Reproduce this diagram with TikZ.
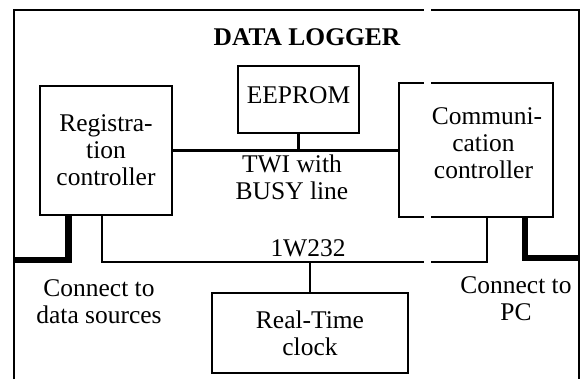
\documentclass[tikz,border=0pt]{standalone}
\usepackage{fontspec}
\setmainfont{Liberation Serif}
\usepackage{tikz}
\usetikzlibrary{calc}
\tikzstyle{every node}=[font=\fontsize{14.5}{15.4}\selectfont]
\tikzstyle{every path}=[line cap=butt,line join=miter]
\tikzstyle{block}=[draw,rectangle,line width=1.6pt,align=center,inner sep=0pt]
\tikzstyle{thinblock}=[block,line width=1.1pt]
\tikzstyle{bus}=[line width=1.2pt]
\tikzstyle{thickbus}=[line width=3.6pt]
\tikzstyle{caption}=[align=center,inner sep=0pt]

\begin{document}
\begin{tikzpicture}[x=0.02cm,y=-0.02cm]
		\useasboundingbox (0,0) rectangle (582,379);
		
		% outer frame of the logger
		\coordinate (tl) at (14,10);
		\coordinate (tr) at (579,10);
		\coordinate (bl) at (14,379);
		\coordinate (br) at (579,379);
		\draw[line width=1.6pt] (bl) -- (tl) -- (tr) -- (br);
		\node[font=\fontsize{14.5}{15.4}\selectfont\bfseries] (title) at (307,37) {DATA LOGGER};
		
		% blocks
		\node[block,minimum width=121*0.02cm,minimum height=67*0.02cm] (eeprom) at (298.5,99.5) {EEPROM\\[-10.5pt]\mbox{}};
		\node[block,minimum width=132*0.02cm,minimum height=129*0.02cm] (reg) at (106,150.5) {Registra-\\tion\\controller};
		\node[thinblock,minimum width=154*0.02cm,minimum height=134*0.02cm] (comm) at (476,150) {\hspace*{12.5pt}Communi-\\\hspace*{8.5pt}cation\\\hspace*{8.5pt}controller\\[-7.5pt]\mbox{}};
		\node[thinblock,minimum width=196*0.02cm,minimum height=80*0.02cm] (rtc) at (310,333) {Real-Time\\clock};
		
		% TWI bus
		\draw[bus] (reg.east) -- (reg.east -| comm.west);
		\draw[bus] (eeprom.south) -- (eeprom.south |- reg.east);
		\node[caption] (twi) at (292,177) {TWI with\\BUSY line};
		
		% 1W232 bus
		\draw[bus] ($(reg.south west)+(63,0)$) -- ++(0,46) coordinate (w1) -| ($(comm.south west)+(89,0)$);
		\draw[bus] (rtc.north) -- (rtc.north |- w1);
		\node[caption] (w232) at (308,248) {1W232};
		
		% external connections
		\coordinate (srcend) at (14,260);
		\coordinate (pcend) at (579,258);
		\draw[thickbus] ($(reg.south west)+(30,0)$) |- (srcend);
		\draw[thickbus] ($(comm.south west)+(127,0)$) |- (pcend);
		\node[caption] (src) at (99,302) {Connect to\\data sources};
		\node[caption] (pc) at (516,299) {Connect to\\PC};
		
		\fill[white] (424,0) rectangle (431,379);
		
	\end{tikzpicture}
\end{document}
